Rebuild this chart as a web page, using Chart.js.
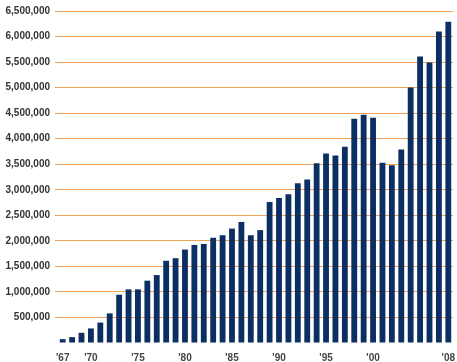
<!DOCTYPE html>
<html>
<head>
<meta charset="utf-8">
<script src="https://cdn.jsdelivr.net/npm/chart.js@4"></script>
<style>
  html, body { margin: 0; padding: 0; background: #fff; }
  #wrap { width: 457px; height: 362px; }
</style>
</head>
<body>
<div id="wrap"><canvas id="chart" width="457" height="362"></canvas></div>
<script>
// categories: one bar per year, 1967 - 2008
const years = ["'67", "'68", "'69", "'70", "'71", "'72", "'73", "'74", "'75", "'76",
               "'77", "'78", "'79", "'80", "'81", "'82", "'83", "'84", "'85", "'86",
               "'87", "'88", "'89", "'90", "'91", "'92", "'93", "'94", "'95", "'96",
               "'97", "'98", "'99", "'00", "'01", "'02", "'03", "'04", "'05", "'06",
               "'07", "'08"];

// values
const values = [75000, 115000, 200000, 285000, 400000, 580000, 945000, 1050000, 1050000, 1220000,
                1330000, 1610000, 1660000, 1830000, 1920000, 1940000, 2060000, 2110000, 2240000, 2370000,
                2110000, 2210000, 2760000, 2840000, 2910000, 3130000, 3200000, 3520000, 3710000, 3670000,
                3840000, 4390000, 4470000, 4410000, 3530000, 3480000, 3790000, 5000000, 5610000, 5490000,
                6100000, 6290000];

// only these year labels appear under the axis
const xTickLabels = ["'67", "'70", "'75", "'80", "'85", "'90", "'95", "'00", "'08"];

const yMax = 6500000;
const yStep = 500000;

const tickFont = { family: 'Liberation Sans, Arial, sans-serif', size: 10, weight: 'bold' };

const ctx = document.getElementById('chart').getContext('2d');
new Chart(ctx, {
    type: 'bar',
    data: {
        labels: years,
        datasets: [{
            data: values,
            backgroundColor: '#0c2f63',
            borderWidth: 0,
            categoryPercentage: 1,
            barPercentage: 0.62
        }]
    },
    options: {
        responsive: false,
        animation: false,
        layout: { padding: { top: 8, right: 4, left: 0, bottom: 0 } },
        plugins: { legend: { display: false }, tooltip: { enabled: false } },
        scales: {
            x: {
                grid: { display: false },
                border: { display: false },
                afterFit: scale => { scale.height = 19; },
                ticks: {
                    autoSkip: false,
                    maxRotation: 0,
                    minRotation: 0,
                    padding: 1,
                    color: '#444',
                    font: tickFont,
                    callback: function (val, i) {
                        const lab = years[i];
                        return xTickLabels.includes(lab) ? lab : '';
                    }
                }
            },
            y: {
                min: 0,
                max: yMax,
                border: { display: false },
                afterFit: scale => { scale.width = 58; },
                grid: {
                    color: c => c.tick.value === 0 ? 'rgba(0,0,0,0)' : '#f0a25a',
                    lineWidth: 1,
                    tickLength: 3
                },
                ticks: {
                    stepSize: yStep,
                    padding: 5,
                    color: '#333',
                    font: tickFont,
                    callback: v => v === 0 ? '' : v.toLocaleString('en-US')
                }
            }
        }
    }
});
</script>
</body>
</html>
